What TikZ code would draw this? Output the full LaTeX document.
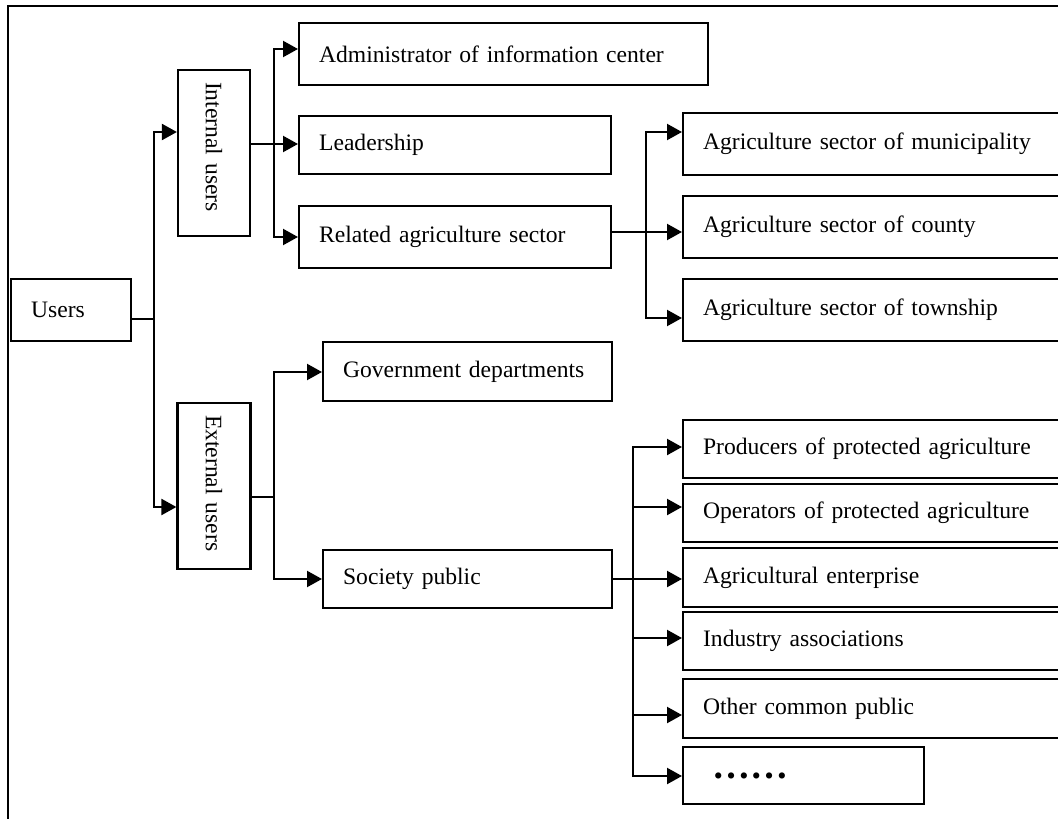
\documentclass[tikz,border=0pt]{standalone}
\usepackage{fontspec}
\setmainfont{Liberation Serif}
\usetikzlibrary{arrows.meta}
\newcommand\mybox[6]{%
  \pgfmathsetmacro\bxw{#4-#2}\pgfmathsetmacro\bxh{#5-#3}\pgfmathsetmacro\bxt{#4-#2-40}%
  \node[box, anchor=north west, minimum width=\bxw pt, minimum height=\bxh pt, text width=\bxt pt] (#1) at (#2,#3) {#6};}
\begin{document}
\begin{tikzpicture}[x=1pt,y=-1pt,
  box/.style={draw, line width=2.2pt, inner ysep=0pt, inner xsep=20pt, align=left,
    font=\fontsize{23.6}{26}\selectfont},
  conn/.style={line width=2.2pt},
  thinconn/.style={line width=1.4pt},
  arr/.style={line width=2.2pt, -{Triangle[length=15pt,width=16pt]}}]
\useasboundingbox (0,0) rectangle (1058,819);
\clip (0,0) rectangle (1058,819);
\draw[line width=2.4pt] (8,6) rectangle (1090,850);

% boxes
\mybox{users}{10}{278}{130}{340}{Users}
\node[box, rotate=-90, anchor=center, minimum width=166pt, minimum height=72pt,
  text width=142pt, inner xsep=12pt] (int) at (214,153) {\raisebox{-4pt}{Internal users}};
\node[box, rotate=-90, anchor=center, minimum width=166pt, minimum height=73pt,
  text width=142pt, inner xsep=12pt] (ext) at (214,486) {\raisebox{-4pt}{External users}};
\mybox{admin}{298}{22}{707}{84}{Administrator of information center}
\mybox{lead}{298}{115}{610}{173}{Leadership}
\mybox{rel}{298}{205}{610}{267}{Related agriculture sector}
\mybox{gov}{322}{341}{611}{400}{Government departments}
\mybox{soc}{322}{549}{611}{607}{Society public}
\mybox{muni}{682}{112}{1070}{174}{Agriculture sector of municipality}
\mybox{county}{682}{195}{1070}{257}{Agriculture sector of county}
\mybox{town}{682}{278}{1070}{340}{Agriculture sector of township}
\mybox{prod}{682}{419}{1070}{477}{Producers of protected agriculture}
\mybox{oper}{682}{483}{1070}{541}{Operators of protected agriculture}
\mybox{ent}{682}{547}{1070}{606}{Agricultural enterprise}
\mybox{ind}{682}{611}{1070}{669}{Industry associations}
\mybox{oth}{682}{678}{1070}{737}{Other common public}
\mybox{dots}{682}{746}{923}{803}{\hspace*{9pt}{\fontsize{38}{38}\selectfont\bfseries ……}}

% connectors: Users
\coordinate (u1) at (154,319);
\draw[thinconn] (users.east |- u1) -- (u1);
\draw[arr] (u1) |- (int.south |- 0,132);
\draw[arr] (u1) |- (ext.south |- 0,507);

% Internal users
\coordinate (i1) at (274,144);
\draw[conn] (int.north |- i1) -- (i1);
\draw[arr] (i1) |- (admin.west |- 0,49);
\draw[arr] (i1) -- (lead.west |- i1);
\draw[arr] (i1) |- (rel.west |- 0,237);

% Related agriculture sector
\coordinate (r1) at (646,232);
\draw[conn] (rel.east |- r1) -- (r1);
\draw[arr] (r1) |- (muni.west |- 0,132);
\draw[arr] (r1) -- (county.west |- r1);
\draw[arr] (r1) |- (town.west |- 0,318);

% External users
\coordinate (e1) at (274,497);
\draw[thinconn] (ext.north |- e1) -- (e1);
\draw[arr] (e1) |- (gov.west |- 0,372);
\draw[arr] (e1) |- (soc.west |- 0,579);

% Society public
\coordinate (s1) at (633,579);
\draw[conn] (soc.east |- s1) -- (s1);
\draw[arr] (s1) |- (prod.west |- 0,447);
\draw[arr] (s1) |- (oper.west |- 0,507);
\draw[arr] (s1) -- (ent.west |- s1);
\draw[arr] (s1) |- (ind.west |- 0,638);
\draw[arr] (s1) |- (oth.west |- 0,715);
\draw[arr] (s1) |- (dots.west |- 0,776);
\end{tikzpicture}
\end{document}
